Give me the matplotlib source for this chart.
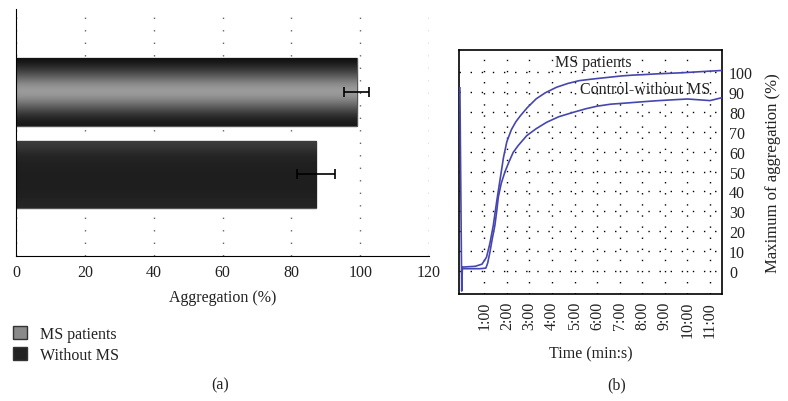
import numpy as np
import matplotlib
matplotlib.use('Agg')
import matplotlib.pyplot as plt
import matplotlib.patches as mpatches

plt.rcParams["font.family"] = "Liberation Serif"
plt.rcParams["font.size"] = 11.5
plt.rcParams["text.color"] = "#222222"
plt.rcParams["xtick.color"] = "#222222"
plt.rcParams["ytick.color"] = "#222222"
plt.rcParams["axes.labelcolor"] = "#222222"

# panel (a): mean aggregation with error
groups = ['Without MS', 'MS patients']
agg_mean = [87.2, 99.0]
agg_err = [5.6, 3.7]
agg_ticks = [0, 20, 40, 60, 80, 100, 120]

# panel (b): aggregation curves (time in minutes, aggregation in %)
ms_t = [-0.08, 0.0, 0.03, 0.3, 0.6, 0.9, 1.1, 1.25, 1.4, 1.55, 1.7, 1.85, 2.0, 2.2,
        2.4, 2.6, 2.9, 3.3, 3.7, 4.2, 4.7, 5.2, 5.7, 6.1, 6.6, 7.1, 7.6, 8.0, 8.6,
        9.2, 9.8, 10.4, 11.0, 11.5]
ms_v = [92, -10, 2, 2.2, 2.4, 3.5, 7, 14, 23, 35, 46, 57, 65, 71,
        75, 78, 82, 86.5, 89.5, 92.3, 94.2, 95.6, 96.3, 96.8, 97.4, 98.0, 98.4, 98.6, 99.0,
        99.3, 99.6, 100.0, 100.4, 100.7]
ctl_t = [0.03, 0.4, 0.8, 1.07, 1.15, 1.25, 1.35, 1.47, 1.55, 1.62, 1.75, 1.92, 2.1, 2.28,
         2.5, 2.88, 3.3, 3.76, 4.3, 4.94, 5.5, 6.0, 6.6, 7.2, 8.0, 8.6, 9.2, 10.0, 10.5,
         11.0, 11.5]
ctl_v = [1.2, 1.2, 1.2, 1.5, 4, 9.5, 16, 23, 30, 37, 44, 50, 55, 59.6,
         63, 68, 71.5, 74.7, 77.5, 79.7, 81.5, 82.8, 83.8, 84.3, 85.0, 85.5, 85.9, 86.4, 86.0,
         85.6, 87.0]
time_ticks = list(range(1, 12))
time_labels = ['%d:00' % m for m in time_ticks]
pct_ticks = list(range(0, 101, 10))

fig = plt.figure(figsize=(7.88, 4.02), dpi=100)

# ---------- (a) ----------
ax1 = fig.add_axes([16/788, 1-257/402, (429-16)/788, (257-10)/402])
bars = ax1.barh([0.96, 2.0], agg_mean, height=0.85, color='#222222',
                edgecolor='#555555', linewidth=1, zorder=2)
gradients = [
    np.array([0.24, 0.18, 0.14, 0.13, 0.12, 0.12, 0.12, 0.12, 0.13, 0.15]),
    np.array([0.07, 0.18, 0.30, 0.45, 0.58, 0.62, 0.55, 0.42, 0.28, 0.16, 0.10]),
]
for bar, grad in zip(bars, gradients):
    x0, y0 = bar.get_x(), bar.get_y()
    w, h = bar.get_width(), bar.get_height()
    im = ax1.imshow(grad.reshape(-1, 1), cmap='gray', vmin=0, vmax=1, aspect='auto',
                    extent=(x0, x0 + w, y0, y0 + h), origin='upper',
                    interpolation='bicubic', zorder=2.5)
    im.set_clip_path(bar)
ax1.errorbar(agg_mean, [0.96, 2.0], xerr=agg_err, fmt='none', ecolor='black',
             elinewidth=1.2, capsize=3.5, capthick=1.2, zorder=3)
ax1.set_xlim(0, 120)
ax1.set_ylim(-0.07, 3.05)
ax1.set_xticks(agg_ticks)
ax1.set_yticks([])
ax1.tick_params(axis='x', length=0, pad=6)
ax1.xaxis.grid(True, color='#666666', linestyle=(0, (1, 8)), linewidth=1)
ax1.set_axisbelow(True)
for s in ['top', 'right']:
    ax1.spines[s].set_visible(False)
ax1.spines['left'].set_color('black')
ax1.spines['bottom'].set_color('black')
ax1.set_xlabel('Aggregation (%)', labelpad=6)

handles = [mpatches.Patch(facecolor='#8a8a8a', edgecolor='#333333', label=groups[1]),
           mpatches.Patch(facecolor='#222222', edgecolor='#333333', label=groups[0])]
fig.legend(handles=handles, loc='upper left', bbox_to_anchor=(0.016, 0.186),
           frameon=False, handlelength=0.9, handleheight=0.9, handletextpad=0.8,
           labelspacing=0.3, borderaxespad=0, borderpad=0)

# ---------- (b) ----------
ax2 = fig.add_axes([459/788, 1-295/402, (722-459)/788, (295-51)/402])
ax2.plot(ctl_t, ctl_v, color='#4646b0', lw=1.2, zorder=3)
ax2.plot(ms_t, ms_v, color='#4646b0', lw=1.2, zorder=3)
ax2.set_xlim(-0.12, 11.53)
ax2.set_ylim(-11.5, 111)
ax2.set_xticks(time_ticks)
ax2.set_xticklabels(time_labels, rotation=90)
ax2.set_yticks(pct_ticks)
ax2.yaxis.tick_right()
ax2.yaxis.set_label_position('right')
ax2.tick_params(length=0, pad=5)
ax2.grid(True, color='black', linestyle=(0, (1, 7)), linewidth=1)
ax2.set_axisbelow(True)
for s in ax2.spines.values():
    s.set_linewidth(1.2)
ax2.set_xlabel('Time (min:s)', labelpad=6)
ax2.set_ylabel('Maximum of aggregation (%)', labelpad=9, fontsize=12)
ax2.text(5.82, 105, 'MS patients', ha='center', va='center')
ax2.text(8.11, 91.5, 'Control-without MS', ha='center', va='center')

fig.text(220/788, 1-385/402, '(a)', ha='center', va='center')
fig.text(617/788, 1-385/402, '(b)', ha='center', va='center')

fig.savefig('out.png', dpi=100)
